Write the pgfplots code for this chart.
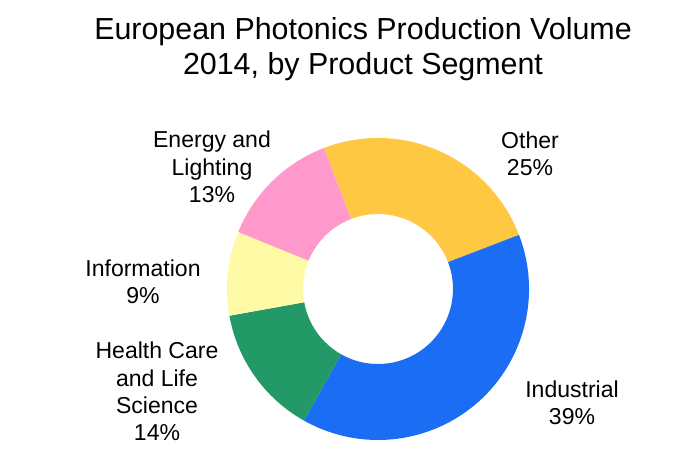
\documentclass[border=0pt]{standalone}
\usepackage{pgfplots}
\usepackage{pgfplotstable}
\pgfplotsset{compat=1.18}
\usepackage{fontspec}
\setmainfont{Liberation Sans}
\definecolor{piecol0}{HTML}{FFC843}
\definecolor{piecol1}{HTML}{1B6EF3}
\definecolor{piecol2}{HTML}{229966}
\definecolor{piecol3}{HTML}{FFFAA5}
\definecolor{piecol4}{HTML}{FF99CC}
\pgfplotstableread{
name value
Other 25
Industrial 39
Health 14
Information 9
Energy 13
}\piedata
\begin{document}
\begin{tikzpicture}
\useasboundingbox (0,0) rectangle (14,9.3);
\begin{axis}[
  at={(0,0)}, anchor=south west,
  x=1cm, y=1cm,
  xmin=-7.56, xmax=6.44, ymin=-3.52, ymax=5.78,
  hide axis, clip=false,
]
\pgfplotsextra{
  \xdef\pieStart{111}
  \pgfplotstableforeachcolumnelement{value}\of\piedata\as\v{%
    \pgfmathsetmacro\pieEnd{\pieStart-\v*3.6}%
    \fill[piecol\pgfplotstablerow]
      (axis cs:{3.02*cos(\pieStart)},{3.02*sin(\pieStart)})
      arc[start angle=\pieStart, end angle=\pieEnd, radius=3.02cm]
      -- (axis cs:{1.50*cos(\pieEnd)},{1.50*sin(\pieEnd)})
      arc[start angle=\pieEnd, end angle=\pieStart, radius=1.50cm]
      -- cycle;
    \xdef\pieStart{\pieEnd}%
  }
}
\node[align=center, font=\fontsize{17.3}{20}\selectfont] at (axis cs:-0.30,4.79)
  {European Photonics Production Volume\\2014, by Product Segment};
\begin{scope}[every node/.style={align=center, font=\fontsize{13.1}{15.5}\selectfont}]
\node at (axis cs:-3.32,2.44) {Energy and\\Lighting\\13\%};
\node at (axis cs:3.04,2.70) {Other\\25\%};
\node at (axis cs:-4.70,0.15) {Information\\9\%};
\node at (axis cs:-4.42,-2.05) {Health Care\\and Life\\Science\\14\%};
\node at (axis cs:3.88,-2.28) {Industrial\\39\%};
\end{scope}
\end{axis}
\end{tikzpicture}
\end{document}
